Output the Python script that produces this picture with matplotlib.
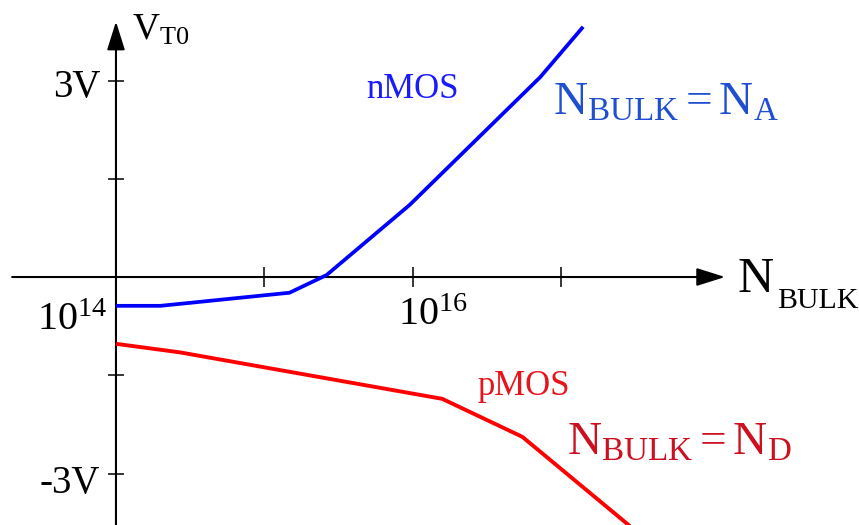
import numpy as np
import matplotlib
matplotlib.use("Agg")
import matplotlib.pyplot as plt
from matplotlib.ticker import NullLocator, NullFormatter

plt.rcParams["font.family"] = ["Liberation Serif", "DejaVu Serif"]
plt.rcParams["mathtext.fontset"] = "custom"
plt.rcParams["mathtext.rm"] = "Liberation Serif"
plt.rcParams["mathtext.it"] = "Liberation Serif:italic"

# threshold voltage vs. bulk doping (log10 of N_BULK, volts)
nmos_logn = [14.0, 14.30, 15.17, 15.42, 15.98, 16.86, 17.15]
nmos_vt0  = [-0.44, -0.44, -0.24, 0.03, 1.10, 3.05, 3.82]
pmos_logn = [14.0, 14.43, 16.20, 16.74, 17.48]
pmos_vt0  = [-1.02, -1.15, -1.86, -2.44, -3.83]

x_ticks = [1e15, 1e16, 1e17]
y_ticks = [-3, -1.5, 1.5, 3]

BLUE, RED = "#0000ff", "#ff0000"

fig = plt.figure(figsize=(8.59, 5.25), dpi=100)
ax = fig.add_axes([0, 0, 1, 1])
ax.set_xscale("log")
ax.set_xlim(10 ** 13.218, 10 ** 19.010)
ax.set_ylim(-3.786, 4.229)
ax.patch.set_alpha(0)

# axes through the origin
for s in ax.spines.values():
    s.set_color("none")
ax.spines["left"].set_position(("data", 1e14))
ax.spines["bottom"].set_position(("data", 0))
ax.xaxis.set_minor_locator(NullLocator())
ax.xaxis.set_minor_formatter(NullFormatter())
ax.set_xticks(x_ticks)
ax.set_yticks(y_ticks)
ax.set_xticklabels([])
ax.set_yticklabels([])
ax.tick_params(axis="x", direction="inout", length=15, width=1.1, color="k")
ax.tick_params(axis="y", direction="inout", length=12, width=1.1, color="k")

arrow = dict(arrowstyle="-|>,head_length=1.75,head_width=0.55",
             mutation_scale=10, lw=1.5, color="k", shrinkA=0, shrinkB=0)
ax.annotate("", xy=(10 ** 18.107, 0), xytext=(10 ** 13.30, 0), arrowprops=arrow)
ax.annotate("", xy=(1e14, 3.90), xytext=(1e14, -3.786), arrowprops=arrow)

ax.plot(10 ** np.array(nmos_logn), nmos_vt0, color=BLUE, lw=2.7,
        solid_capstyle="butt", zorder=3)
ax.plot(10 ** np.array(pmos_logn), pmos_vt0, color=RED, lw=2.8,
        solid_capstyle="butt", zorder=3)

# axis labels
ax.text(10 ** 14.108, 3.618, r"$\mathrm{V_{T0}}$", fontsize=27, va="baseline")
ax.text(10 ** 18.194, -0.229, "N", fontsize=36, va="baseline")
ax.annotate("BULK", xy=(10 ** 18.194, -0.229), xytext=(28, -11.5),
            textcoords="offset points", fontsize=21.5, va="baseline")
ax.text(10 ** 13.892, 2.748, "3V", fontsize=28, ha="right", va="baseline")
ax.text(10 ** 13.892, -3.298, "-3V", fontsize=28, ha="right", va="baseline")
ax.text(10 ** 13.939, -0.809, r"$\mathrm{10^{14}}$", fontsize=29, ha="right", va="baseline")
ax.text(10 ** 15.902, -0.733, r"$\mathrm{10^{16}}$", fontsize=29, va="baseline")

# curve labels
ax.text(10 ** 15.686, 2.733, "nMOS", fontsize=25, color="#1a1aff", va="baseline")
ax.text(10 ** 16.947, 2.473, r"$\mathrm{N_{BULK}} = \mathrm{N_A}$", fontsize=34,
        color="#1f4fd0", va="baseline")
ax.text(10 ** 16.441, -1.802, "pMOS", fontsize=25, color="#e8141c", va="baseline")
ax.text(10 ** 17.041, -2.718, r"$\mathrm{N_{BULK}} = \mathrm{N_D}$", fontsize=34,
        color="#cc1020", va="baseline")

fig.savefig("out.png", dpi=100, facecolor="white")
